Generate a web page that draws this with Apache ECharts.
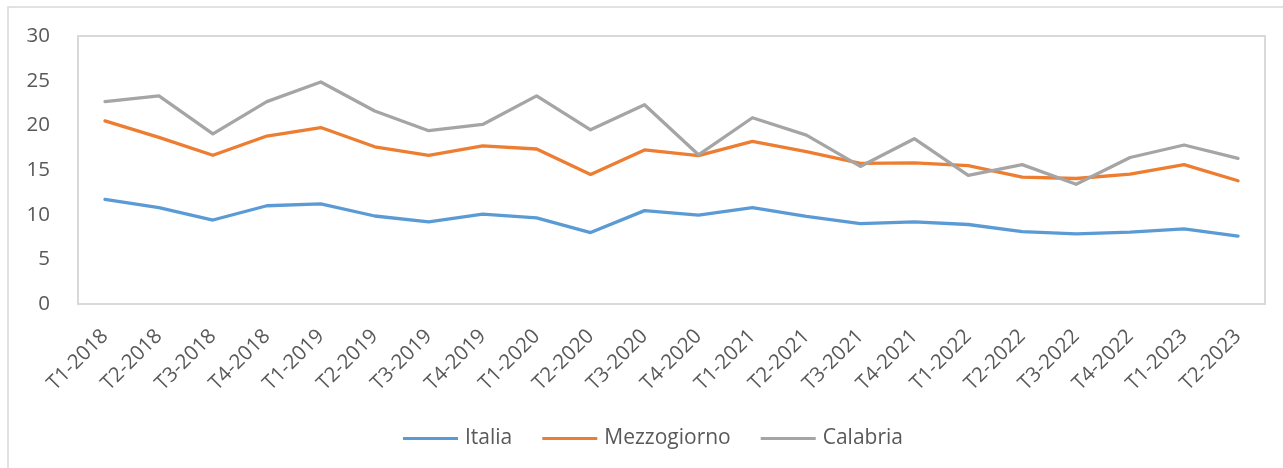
<!DOCTYPE html>
<html>
<head>
<meta charset="utf-8">
<script src="https://cdn.jsdelivr.net/npm/echarts@6/dist/echarts.min.js"></script>
<style>
html,body{margin:0;padding:0;background:#fff;}
#c{width:1283px;height:468px;}
</style>
</head>
<body>
<div id="c"></div>
<script>
const categories = ['T1-2018','T2-2018','T3-2018','T4-2018','T1-2019','T2-2019','T3-2019','T4-2019',
  'T1-2020','T2-2020','T3-2020','T4-2020','T1-2021','T2-2021','T3-2021','T4-2021',
  'T1-2022','T2-2022','T3-2022','T4-2022','T1-2023','T2-2023'];
const italia = [11.7,10.8,9.4,11.0,11.2,9.85,9.2,10.05,9.65,8.0,10.45,9.95,10.8,9.8,9.0,9.2,8.9,8.1,7.85,8.05,8.4,7.6];
const mezzogiorno = [20.5,18.65,16.65,18.8,19.75,17.6,16.65,17.7,17.35,14.5,17.25,16.6,18.2,17.05,15.75,15.8,15.5,14.2,14.05,14.55,15.6,13.8];
const calabria = [22.65,23.3,19.05,22.65,24.85,21.6,19.4,20.1,23.3,19.5,22.3,16.7,20.85,18.9,15.4,18.5,14.4,15.6,13.4,16.4,17.8,16.3];
const yTicks = {min:0, max:30, interval:5};

const font = '"Open Sans", "Noto Sans", sans-serif';
const txt = '#595959';
const chart = echarts.init(document.getElementById('c'), null, {renderer:'canvas'});
function line(name, data, color){
  return {name, type:'line', data, symbol:'none', showSymbol:false,
    lineStyle:{color, width:3.3, cap:'round', join:'round'}, itemStyle:{color}};
}
chart.setOption({
  animation:false,
  backgroundColor:'#fff',
  graphic:[{type:'rect', shape:{x:8, y:7, width:1300, height:480}, style:{fill:'none', stroke:'#d9d9d9', lineWidth:1.5}, silent:true, z:-1}],
  grid:{left:78, right:18, top:36, bottom:164, show:true, borderColor:'#d9d9d9', borderWidth:2, backgroundColor:'transparent'},
  xAxis:{type:'category', data:categories, boundaryGap:true,
    axisLine:{show:false}, axisTick:{show:false}, splitLine:{show:false},
    axisLabel:{rotate:45, interval:0, color:txt, fontFamily:font, fontSize:20.5, margin:29}},
  yAxis:{type:'value', min:yTicks.min, max:yTicks.max, interval:yTicks.interval,
    axisLine:{show:false}, axisTick:{show:false}, splitLine:{show:false},
    axisLabel:{color:txt, fontFamily:font, fontSize:20.5, margin:28}},
  legend:{left:398, top:423, itemWidth:55, itemHeight:3, itemGap:30, icon:'rect',
    textStyle:{color:txt, fontFamily:font, fontSize:21, padding:[0,0,0,2]},
    data:['Italia','Mezzogiorno','Calabria']},
  series:[line('Italia', italia, '#5B9BD5'), line('Mezzogiorno', mezzogiorno, '#ED7D31'), line('Calabria', calabria, '#A5A5A5')]
});
</script>
</body>
</html>
